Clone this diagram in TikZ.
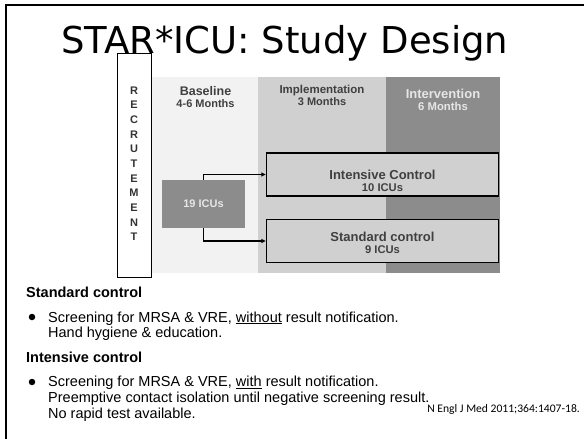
\documentclass[tikz,border=0pt]{standalone}
\usepackage{fontspec}
\setmainfont{Liberation Sans}
\newfontfamily\titlefont{DejaVu Sans}
\newfontfamily\citefont{Carlito}
\usetikzlibrary{arrows.meta,positioning}
\definecolor{basegray}{HTML}{F2F2F2}
\definecolor{implgray}{HTML}{D0D0D0}
\definecolor{intvgray}{HTML}{8C8C8C}
\definecolor{labelgray}{HTML}{404040}
\definecolor{palegray}{HTML}{E6E6E6}
\newcommand{\fs}[2]{\fontsize{#1}{#2}\selectfont}
\tikzset{
    txt/.style={inner sep=0pt, align=center},
    phase/.style={fill=#1, draw=none, inner sep=0pt, minimum height=196pt},
    group/.style={draw, line width=1.5pt, fill=implgray, inner sep=0pt, minimum width=232pt, minimum height=43pt},
    split/.style={line width=1.3pt, -{Triangle[length=4.5pt,width=4pt]}},
    bullet/.style={circle, fill, inner sep=0pt, minimum size=6.5pt},
    body/.style={inner sep=0pt, anchor=base west, align=left, font=\fs{14.5}{15.8}}
}

\begin{document}
\begin{tikzpicture}[x=1pt,y=-1pt]
    \useasboundingbox (0,0) rectangle (584,439);
    \draw [line width=2pt] (6,439) -- (6,5) -- (584,5);

    \node [txt, anchor=base west, font=\titlefont\fs{37}{40}] (title) at (61,53) {STAR*ICU: Study Design};

    \node [phase=basegray, minimum width=107pt] (base) at (205.5,175) {};
    \node [phase=implgray, minimum width=128pt] (impl) at (322,175) {};
    \node [phase=intvgray, minimum width=114pt] (intv) at (443,175) {};

    \node [txt, anchor=base, text=labelgray, font=\bfseries] (basehead) at (205.5,107.3)
        {{\fs{12.5}{13}Baseline}\\{\fs{11}{13}4-6 Months}};
    \node [txt, anchor=base, text=labelgray, font=\bfseries] (implhead) at (322,105)
        {{\fs{11.5}{12.7}Implementation}\\{\fs{11}{12.7}3 Months}};
    \node [txt, anchor=base, text=palegray, font=\bfseries] (intvhead) at (443,110)
        {{\fs{13}{15.7}Intervention}\\{\fs{11.3}{15.7}6 Months}};

    \node [draw, line width=0.8pt, inner sep=0pt, minimum width=34pt, minimum height=224pt] (recbox) at (134,165) {};
    \node [txt, anchor=base, text=black!80, font=\bfseries\fs{11}{14.67}] (rec) at (134,240.7)
        {R\\E\\C\\R\\U\\T\\E\\M\\E\\N\\T};

    \node [fill=intvgray, inner sep=0pt, minimum width=83pt, minimum height=48pt, text=palegray, font=\bfseries\fs{11}{13}] (icu) at (203.5,204) {19 ICUs};
    \node [group] (intens) at (382.5,174.5) {};
    \node [group] (stand) at (382.5,241) {};
    \node [txt, anchor=base, text=labelgray, font=\bfseries] (intenstext) at (382.5,191)
        {{\fs{13}{14}Intensive Control}\\{\fs{11.2}{14}10 ICUs}};
    \node [txt, anchor=base, text=labelgray, font=\bfseries] (standtext) at (382.5,253)
        {{\fs{13}{12.5}Standard control}\\{\fs{11.2}{12.5}9 ICUs}};

    \draw [split] (icu.north) |- (intens.west);
    \draw [split] (icu.south) |- (stand.west);

    \node [body, font=\bfseries\fs{14.5}{16}] (stdhead) at (26,297) {Standard control};
    \node [bullet] (bul1) at (32,317) {};
    \node [body] (stdtext) at (48,337.8)
        {Screening for MRSA \& VRE, \underline{without} result notification.\\Hand hygiene \& education.};
    \node [body, font=\bfseries\fs{14.5}{16}] (inthead) at (26,362.7) {Intensive control};
    \node [bullet] (bul2) at (32,382) {};
    \node [body] (inttext) at (48,418.3)
        {Screening for MRSA \& VRE, \underline{with} result notification.\\Preemptive contact isolation until negative screening result.\\No rapid test available.};

    \node [txt, anchor=base east, font=\citefont\fs{11.6}{13}] (cite) at (580,412) {N Engl J Med 2011;364:1407-18.};
\end{tikzpicture}
\end{document}
